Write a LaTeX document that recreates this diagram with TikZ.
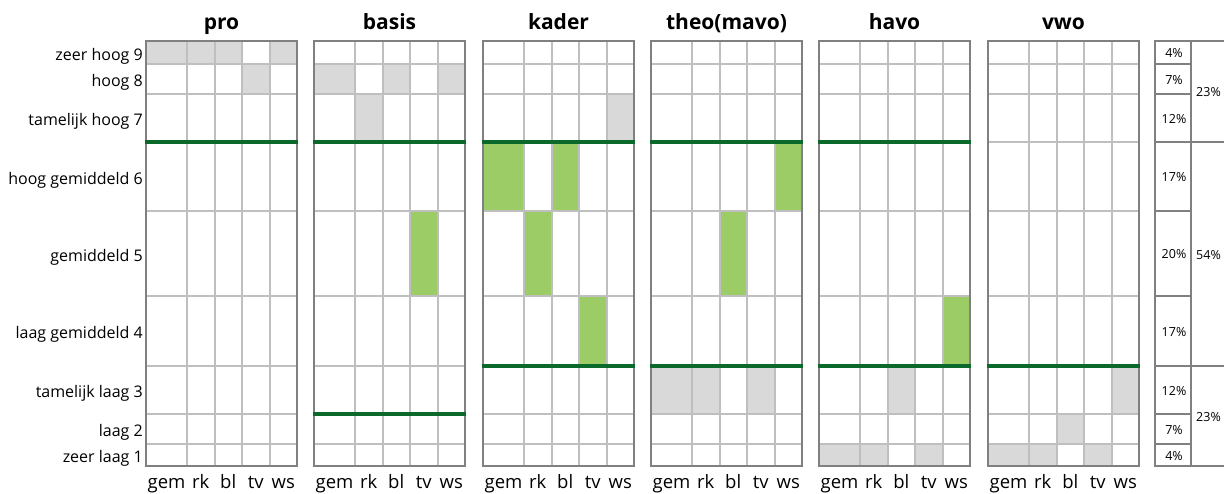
\documentclass[tikz,border=0pt]{standalone}
\usepackage{fontspec}
\setmainfont{Open Sans}
\usetikzlibrary{positioning}
\definecolor{gridgrey}{HTML}{BFBFBF}
\definecolor{framegrey}{HTML}{808080}
\definecolor{cellgrey}{HTML}{D9D9D9}
\definecolor{cellgreen}{HTML}{9BCC66}
\definecolor{bandgreen}{HTML}{0B6A2B}
% column offsets inside a panel, row boundaries from top (level 9) to bottom (level 1)
\def\colx{{0,41,68.5,96,123.5,151}}
\def\rowy{{41,64,94,142,211,296,366,414,444,466}}

\begin{document}
\begin{tikzpicture}[x=1pt,y=-1pt,
	gridline/.style={draw=gridgrey,line width=2pt},
	panelframe/.style={draw=framegrey,line width=2.5pt},
	cutline/.style={draw=bandgreen,line width=4pt},
	rowlabel/.style={anchor=base east,inner sep=0pt,font=\fontsize{16}{18}\selectfont},
	collabel/.style={anchor=base,inner sep=0pt,font=\fontsize{18.5}{20}\selectfont},
	paneltitle/.style={anchor=base,inner sep=0pt,font=\fontsize{21}{24}\selectfont\bfseries},
	pct/.style={anchor=base,inner sep=0pt,font=\fontsize{12.5}{14}\selectfont}]
	\useasboundingbox (0,0) rectangle (1224,493);

	% filled cells: panel x / column / level / colour
	\foreach \px/\c/\lvl/\col in {146/0/9/cellgrey, 146/1/9/cellgrey, 146/2/9/cellgrey, 146/4/9/cellgrey, 146/3/8/cellgrey,
		314/0/8/cellgrey, 314/2/8/cellgrey, 314/4/8/cellgrey, 314/1/7/cellgrey, 314/3/5/cellgreen,
		483/4/7/cellgrey, 483/0/6/cellgreen, 483/2/6/cellgreen, 483/1/5/cellgreen, 483/3/4/cellgreen,
		651/4/6/cellgreen, 651/2/5/cellgreen, 651/0/3/cellgrey, 651/1/3/cellgrey, 651/3/3/cellgrey,
		819/4/4/cellgreen, 819/2/3/cellgrey, 819/0/1/cellgrey, 819/1/1/cellgrey, 819/3/1/cellgrey,
		988/4/3/cellgrey, 988/2/2/cellgrey, 988/0/1/cellgrey, 988/1/1/cellgrey, 988/3/1/cellgrey}{
		\pgfmathsetmacro\xa{\px+\colx[\c]}
		\pgfmathsetmacro\xb{\px+\colx[\c+1]}
		\pgfmathsetmacro\ya{\rowy[9-\lvl]}
		\pgfmathsetmacro\yb{\rowy[10-\lvl]}
		\fill[\col] (\xa,\ya) rectangle (\xb,\yb);
	}

	\foreach \p/\px/\name in {pro/146/pro, bas/314/basis, kad/483/kader, theo/651/theo(mavo), hav/819/havo, vwo/988/vwo}{
		\foreach \i in {1,...,8}{
			\pgfmathsetmacro\yy{\rowy[\i]}
			\draw[gridline] (\px,\yy) -- ++(151,0);
		}
		\foreach \c in {1,...,4}{
			\pgfmathsetmacro\xx{\px+\colx[\c]}
			\draw[gridline] (\xx,41) -- (\xx,466);
		}
		\draw[panelframe] (\px,41) rectangle ++(151,425);
		\node[paneltitle] (\p) at (\px+75.5,29.5) {\name};
		\foreach \c/\lab in {0/gem,1/rk,2/bl,3/tv,4/ws}{
			\pgfmathsetmacro\xa{\px+\colx[\c]}
			\pgfmathsetmacro\xb{\px+\colx[\c+1]}
			\node[collabel] (\p-\lab) at ({(\xa+\xb)/2},488) {\lab};
		}
	}

	% green cut-off lines
	\foreach \px/\yy in {146/142, 314/142, 483/142, 651/142, 819/142, 483/366, 651/366, 819/366, 988/366, 314/414}
		\draw[cutline] (\px-1.25,\yy) -- ++(153.5,0);

	% level labels and percentage table
	\draw[panelframe] (1155,41) rectangle (1191,466);
	\foreach \i in {1,...,8}{
		\pgfmathsetmacro\yy{\rowy[\i]}
		\draw[panelframe] (1155,\yy) -- (1191,\yy);
	}
	\draw[panelframe] (1191,41) -- (1230,41) (1191,142) -- (1230,142) (1191,366) -- (1230,366) (1191,466) -- (1230,466);

	\foreach \lvl/\txt/\pc in {9/zeer hoog 9/4, 8/hoog 8/7, 7/tamelijk hoog 7/12, 6/hoog gemiddeld 6/17, 5/gemiddeld 5/20,
		4/laag gemiddeld 4/17, 3/tamelijk laag 3/12, 2/laag 2/7, 1/zeer laag 1/4}{
		\pgfmathsetmacro\ya{\rowy[9-\lvl]}
		\pgfmathsetmacro\yb{\rowy[10-\lvl]}
		\node[rowlabel] (lvl\lvl) at (143,{(\ya+\yb)/2+7.5}) {\txt};
		\node[pct] (pct\lvl) at (1174,{(\ya+\yb)/2+5}) {\pc\%};
	}
	\node[pct,anchor=base west] (sumhigh) at (1196,96) {23\%};
	\node[pct,anchor=base west] (summid) at (1196,259) {54\%};
	\node[pct,anchor=base west] (sumlow) at (1196,421) {23\%};
\end{tikzpicture}
\end{document}
